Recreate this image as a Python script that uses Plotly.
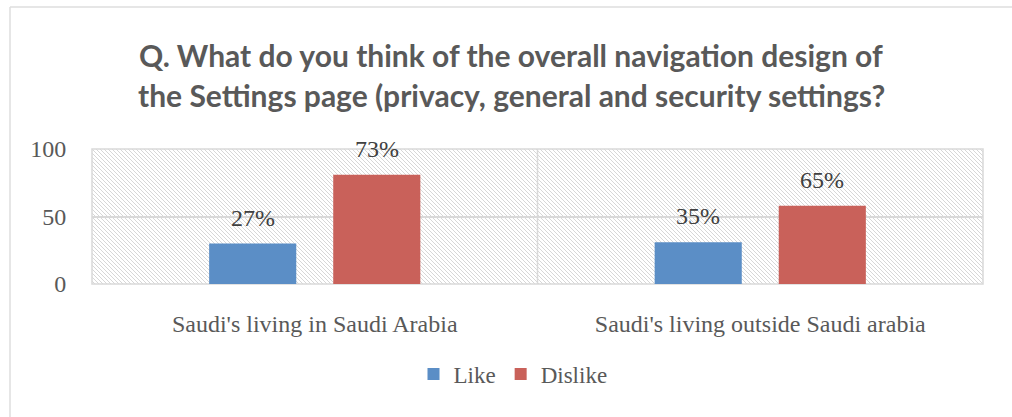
import base64
import plotly.graph_objects as go

# Survey responses (counts) per group
categories = ["Saudi's living in Saudi Arabia", "Saudi's living outside Saudi arabia"]
like_counts = [30, 31]
dislike_counts = [81, 58]
series_names = ["Like", "Dislike"]
series_colors = ["#5b8ec6", "#c9615a"]
y_ticks = [0, 50, 100]

title_lines = [
    "Q. What do you think of the overall navigation design of",
    "the Settings page (privacy, general and security settings?",
]

W, H = 1012, 417
M_L, M_R, M_T, M_B = 92, 29, 149, 133
PW, PH = W - M_L - M_R, H - M_T - M_B

SERIF = "Liberation Serif, Times New Roman, serif"
GRID = "#d9d9d9"

# share of each answer within its group, shown above the bars
totals = [a + b for a, b in zip(like_counts, dislike_counts)]
like_pct = [round(v / t * 100) for v, t in zip(like_counts, totals)]
dislike_pct = [round(v / t * 100) for v, t in zip(dislike_counts, totals)]

fig = go.Figure()
for name, vals, color in zip(series_names, [like_counts, dislike_counts], series_colors):
    fig.add_trace(go.Bar(
        name=name, x=categories, y=vals,
        marker=dict(color=color, line=dict(width=0)),
        hoverinfo="skip",
    ))

# diagonal hatch texture for the plotting area
svg = (
    f'<svg xmlns="http://www.w3.org/2000/svg" width="{PW}" height="{PH}" '
    f'viewBox="0 0 {PW} {PH}" preserveAspectRatio="none">'
    '<defs><pattern id="h" width="4" height="4" patternUnits="userSpaceOnUse">'
    '<path d="M-1,-1 L5,5 M3,-1 L5,1 M-1,3 L1,5" stroke="#d2d2d2" stroke-width="0.9"/>'
    '</pattern></defs>'
    f'<rect width="{PW}" height="{PH}" fill="#ffffff"/>'
    f'<rect width="{PW}" height="{PH}" fill="url(#h)"/></svg>'
)
hatch_uri = "data:image/svg+xml;base64," + base64.b64encode(svg.encode()).decode()

# bar geometry (pixels) used to centre the value labels above each bar
cat_w = PW / len(categories)
bargap, bargroupgap = 0.443, 0.298
slot = cat_w * (1 - bargap) / 2
offsets = [-slot / 2, slot / 2]

annotations = []
for off, vals, pcts in zip(offsets, [like_counts, dislike_counts], [like_pct, dislike_pct]):
    for c, v, p in zip(categories, vals, pcts):
        annotations.append(dict(
            x=c, y=v, xref="x", yref="y", text=f"{p}%", showarrow=False,
            xanchor="center", yanchor="bottom", xshift=off, yshift=11,
            font=dict(family=SERIF, size=24, color="#404040"),
        ))

for i, line in enumerate(title_lines):
    annotations.append(dict(
        x=(W / 2 + 5 - M_L) / PW, y=(M_T + PH - (55 + 40 * i)) / PH,
        xref="paper", yref="paper", text=line, showarrow=False,
        xanchor="center", yanchor="middle",
        font=dict(family="Lato, Open Sans, sans-serif", size=30, color="#595959", weight="bold"),
    ))

shapes = [
    # plotting-area frame and group divider
    dict(type="rect", xref="paper", yref="paper", x0=0, x1=1, y0=0, y1=1,
         line=dict(color=GRID, width=1.5), layer="below"),
    dict(type="line", xref="x", yref="paper", x0=0.5, x1=0.5, y0=0, y1=1,
         line=dict(color=GRID, width=1.5), layer="below"),
    # outer chart frame (left and top edges)
    dict(type="line", xref="paper", yref="paper",
         x0=(10 - M_L) / PW, x1=(10 - M_L) / PW, y0=(M_T + PH - H) / PH, y1=(M_T + PH - 7) / PH,
         line=dict(color="#dedede", width=1.5)),
    dict(type="line", xref="paper", yref="paper",
         x0=(10 - M_L) / PW, x1=(W - M_L) / PW, y0=(M_T + PH - 7) / PH, y1=(M_T + PH - 7) / PH,
         line=dict(color="#dedede", width=1.5)),
]

fig.update_layout(
    width=W, height=H,
    margin=dict(l=M_L, r=M_R, t=M_T, b=M_B),
    paper_bgcolor="white", plot_bgcolor="white",
    barmode="group", bargap=bargap, bargroupgap=bargroupgap,
    showlegend=True,
    legend=dict(orientation="h", x=(513 - M_L) / PW, xanchor="center",
                y=(M_T + PH - 374) / PH, yanchor="middle",
                font=dict(family=SERIF, size=23, color="#595959"),
                itemwidth=30, bgcolor="rgba(0,0,0,0)"),
    annotations=annotations,
    shapes=shapes,
    images=[dict(source=hatch_uri, xref="paper", yref="paper", x=0, y=1,
                 sizex=1, sizey=1, xanchor="left", yanchor="top",
                 sizing="stretch", layer="below")],
    xaxis=dict(showgrid=False, zeroline=False, showline=False,
               ticks="outside", ticklen=18, tickcolor="rgba(0,0,0,0)",
               tickfont=dict(family=SERIF, size=24, color="#595959")),
    yaxis=dict(range=[0, 100], tickvals=y_ticks, showgrid=True, gridcolor=GRID,
               gridwidth=1.5, zeroline=False, showline=False,
               ticks="outside", ticklen=20, tickcolor="rgba(0,0,0,0)",
               tickfont=dict(family=SERIF, size=24, color="#595959")),
)
fig.update_traces(cliponaxis=False)

fig.write_html("out.html")
